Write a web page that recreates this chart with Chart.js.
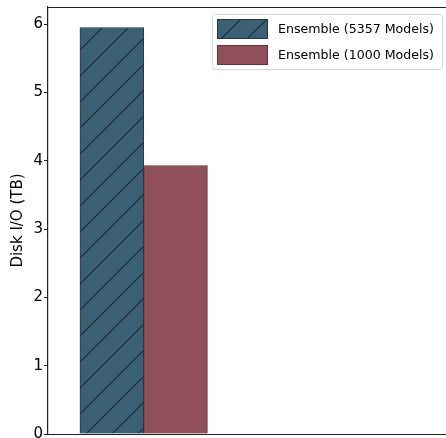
<!DOCTYPE html>
<html>
<head>
<meta charset="utf-8">
<script src="https://cdn.jsdelivr.net/npm/chart.js@4/dist/chart.umd.min.js"></script>
<style>
  html, body { margin: 0; padding: 0; background: #fff; overflow: hidden; }
</style>
</head>
<body>
<canvas id="ioChart" width="446" height="438"></canvas>
<script>
// data
const seriesLabels = ['Ensemble (5357 Models)', 'Ensemble (1000 Models)'];
const diskIO = [5.95, 3.93];          // TB
const groupPos = [0];                 // single group on the x axis
const yTicks = [0, 1, 2, 3, 4, 5, 6];

const fills = ['#3b5f73', '#8f4f5b'];
const edges = ['#223a49', '#6a3038'];

// diagonal '/' hatch for the first series
function makeHatch(color) {
    const s = 26;
    const c = document.createElement('canvas');
    c.width = s; c.height = s;
    const g = c.getContext('2d');
    g.fillStyle = color;
    g.fillRect(0, 0, s, s);
    g.strokeStyle = '#172c39';
    g.lineWidth = 1.1;
    g.beginPath();
    g.moveTo(-2, s + 2); g.lineTo(s + 2, -2);
    g.moveTo(-s / 2 - 2, s / 2 + 2); g.lineTo(s / 2 + 2, -s / 2 - 2);
    g.moveTo(s / 2 - 2, s * 1.5 + 2); g.lineTo(s * 1.5 + 2, s / 2 - 2);
    g.stroke();
    return g.createPattern(c, 'repeat');
}

const ctx = document.getElementById('ioChart').getContext('2d');
const hatch = makeHatch(fills[0]);

// frame lines (top / bottom spines) and the boxed legend
const framePlugin = {
    id: 'frame',
    afterDraw(chart) {
        const a = chart.chartArea;
        const g = chart.ctx;
        g.save();
        g.strokeStyle = '#222';
        g.lineWidth = 1.2;
        g.beginPath();
        g.moveTo(a.left, a.top + 0.5); g.lineTo(chart.width, a.top + 0.5);
        g.moveTo(a.left, a.bottom + 0.5); g.lineTo(chart.width, a.bottom + 0.5);
        g.stroke();

        // legend
        const lx = 212, ly = 14, lw = 230, lh = 55;
        g.fillStyle = 'rgba(255,255,255,0.85)';
        g.strokeStyle = '#d6d6d6';
        g.lineWidth = 1;
        g.beginPath();
        g.roundRect(lx + 0.5, ly + 0.5, lw, lh, 3);
        g.fill();
        g.stroke();
        const swatchFills = [hatch, fills[1]];
        g.font = '12.6px "DejaVu Sans"';
        g.textBaseline = 'middle';
        seriesLabels.forEach((lab, i) => {
            const sy = 19 + i * 26;
            g.fillStyle = swatchFills[i];
            g.fillRect(217, sy, 51, 20);
            g.strokeStyle = edges[i];
            g.strokeRect(217.5, sy + 0.5, 50, 19);
            g.fillStyle = '#000';
            g.fillText(lab, 278, sy + 11);
        });
        g.restore();
    }
};

new Chart(ctx, {
    type: 'bar',
    data: {
        datasets: seriesLabels.map((lab, i) => ({
            label: lab,
            data: groupPos.map(x => ({ x: x, y: diskIO[i] })),
            backgroundColor: i === 0 ? hatch : fills[i],
            borderColor: edges[i],
            borderWidth: 1,
            barThickness: 63.75
        }))
    },
    options: {
        responsive: false,
        animation: false,
        layout: { padding: { top: 7, bottom: 4, left: 0, right: 0 } },
        plugins: {
            legend: { display: false },
            tooltip: { enabled: false }
        },
        scales: {
            x: {
                type: 'linear',
                display: false,
                offset: false,
                min: -0.5,
                max: 1.58
            },
            y: {
                min: 0,
                max: 6.25,
                afterFit(scale) {
                    scale.width = 48;
                    scale.paddingTop = 0;
                    scale.paddingBottom = 0;
                },
                afterBuildTicks(scale) { scale.ticks = yTicks.map(v => ({ value: v })); },
                border: { display: true, color: '#222', width: 1.2 },
                grid: { drawOnChartArea: false, drawTicks: true, tickLength: 4, color: '#222' },
                ticks: {
                    padding: 1,
                    color: '#000',
                    font: { family: 'DejaVu Sans', size: 15 }
                },
                title: {
                    display: true,
                    text: 'Disk I/O (TB)',
                    color: '#000',
                    padding: { top: 9, bottom: 0 },
                    font: { family: 'DejaVu Sans', size: 15 }
                }
            }
        }
    },
    plugins: [framePlugin]
});
</script>
</body>
</html>
